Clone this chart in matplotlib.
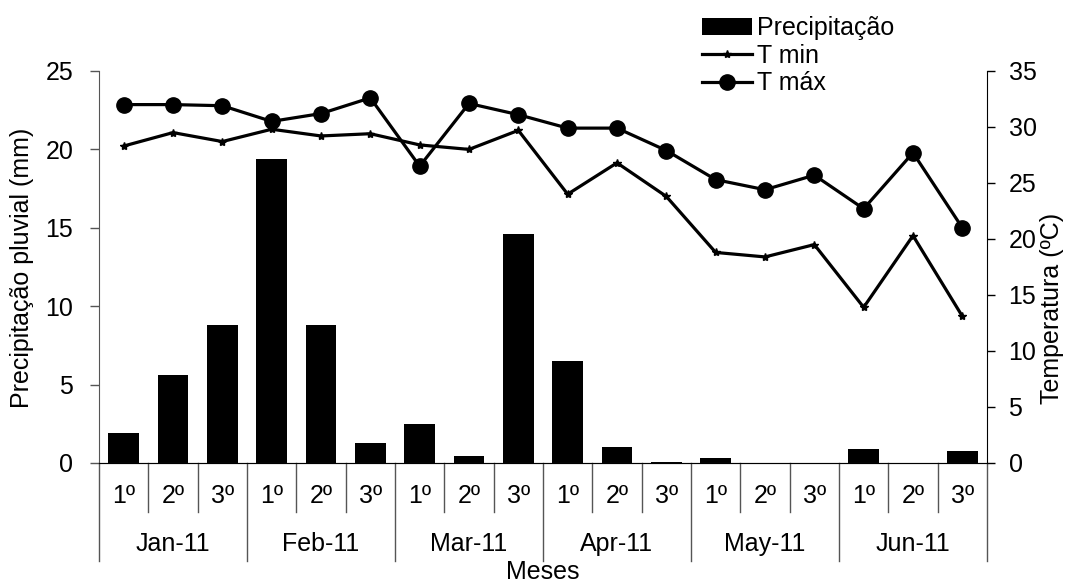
import numpy as np
import matplotlib.pyplot as plt

plt.rcParams['font.family'] = ['Liberation Sans', 'DejaVu Sans']

# dados por decêndio (jan-jun 2011)
months = ['Jan-11', 'Feb-11', 'Mar-11', 'Apr-11', 'May-11', 'Jun-11']
decendios = ['1º', '2º', '3º']
precip = [1.9, 5.6, 8.8, 19.4, 8.8, 1.3, 2.5, 0.45, 14.6, 6.5, 1.05, 0.08,
          0.35, 0.0, 0.0, 0.9, 0.0, 0.75]
t_min = [28.3, 29.5, 28.7, 29.8, 29.2, 29.4, 28.4, 28.0, 29.7, 24.0, 26.8, 23.8,
         18.8, 18.4, 19.5, 13.9, 20.3, 13.1]
t_max = [32.0, 32.0, 31.9, 30.5, 31.2, 32.6, 26.5, 32.1, 31.1, 29.9, 29.9, 27.9,
         25.3, 24.4, 25.7, 22.7, 27.7, 21.0]

W, H = 1069, 584
FS = 18

fig = plt.figure(figsize=(W / 100, H / 100), dpi=100)
ax = fig.add_axes([99 / W, 1 - 463 / H, (987 - 99) / W, (463 - 71) / H])

x = np.arange(len(precip))
ax.bar(x, precip, width=0.62, color='black', label='Precipitação')
ax.set_xlim(-0.5, len(precip) - 0.5)
ax.set_ylim(0, 25)
ax.set_yticks(np.arange(0, 26, 5))
ax.set_xticks([])

ax2 = ax.twinx()
ax2.plot(x, t_min, color='black', lw=2.3, marker='*', ms=6, label='T min')
ax2.plot(x, t_max, color='black', lw=2.3, marker='o', ms=11, label='T máx')
ax2.set_ylim(0, 35)
ax2.set_yticks(np.arange(0, 36, 5))

for a in (ax, ax2):
    a.spines['top'].set_visible(False)
ax.tick_params(axis='y', direction='out', length=6.5, width=1, labelsize=FS, pad=12,
               color='#555555')
ax2.tick_params(axis='y', direction='out', length=5.5, width=1, labelsize=FS, pad=10)
ax.spines['left'].set_color('#555555')
ax2.spines['left'].set_visible(False)
ax.spines['right'].set_visible(False)
ax.spines['bottom'].set_color('#555555')

# eixo categórico em dois níveis
trans = ax.get_xaxis_transform()
for b in range(len(precip) + 1):
    bottom = -0.25 if b % 3 == 0 else -0.125
    ax.plot([b - 0.5, b - 0.5], [0, bottom], transform=trans, clip_on=False,
            color='#555555', lw=1)
for i in range(len(precip)):
    ax.text(i, -0.084, decendios[i % 3], transform=trans, ha='center', va='center',
            fontsize=FS)
for m, name in enumerate(months):
    ax.text(3 * m + 1, -0.207, name, transform=trans, ha='center', va='center',
            fontsize=FS)

fig.text((99 + 987) / 2 / W, 1 - 572 / H, 'Meses', ha='center', va='center', fontsize=FS)
fig.text(22 / W, 1 - 268 / H, 'Precipitação pluvial (mm)', rotation=90,
         ha='center', va='center', fontsize=FS)
fig.text(1052 / W, 1 - 308 / H, 'Temperatura (ºC)', rotation=90,
         ha='center', va='center', fontsize=FS)

h1, l1 = ax.get_legend_handles_labels()
h2, l2 = ax2.get_legend_handles_labels()
fig.legend(h1 + h2, l1 + l2, loc='upper left', bbox_to_anchor=(702 / W, 1 - 16 / H),
           frameon=False, fontsize=FS, borderpad=0, handlelength=2.0,
           handletextpad=0.2, labelspacing=0.15, borderaxespad=0)

fig.savefig('out.png', dpi=100)
